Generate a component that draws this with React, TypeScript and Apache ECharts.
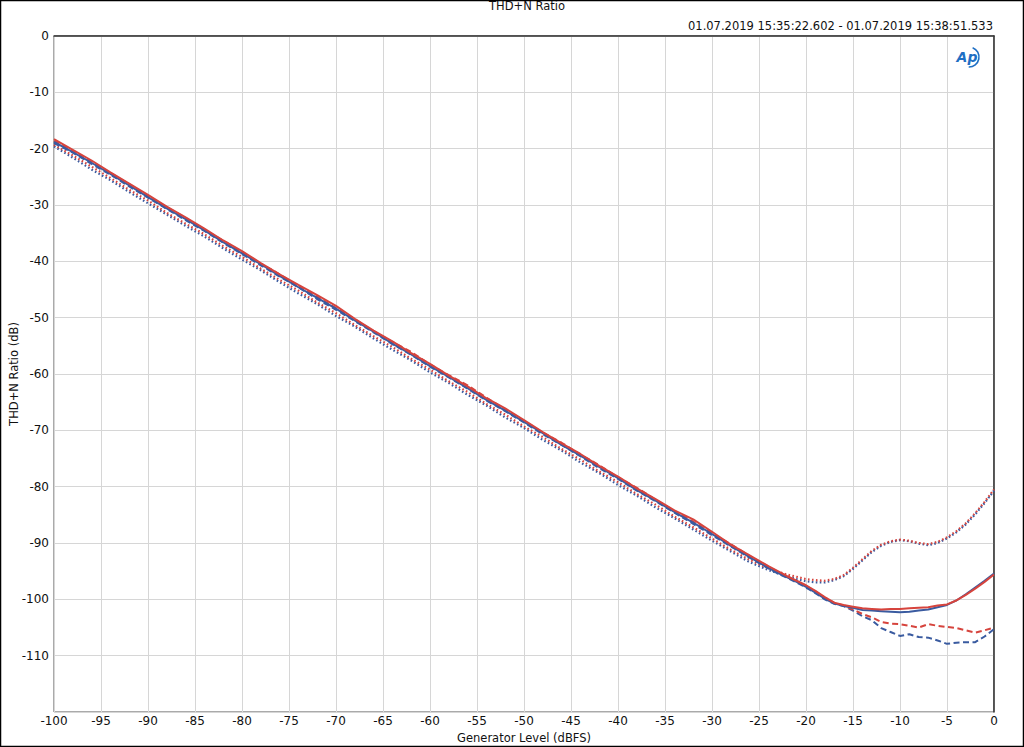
import React, { useEffect, useRef } from "react";
import * as echarts from "echarts";

const levels = [
  -100, -98, -96, -94, -92, -90, -88, -86, -84, -82, -80, -78, -76, -74, -72, -70, -68, -66, -64, -62,
  -60, -58, -56, -54, -52, -50, -48, -46, -44, -42, -40, -38, -36, -34, -32, -30, -28, -26, -24,
  -23, -22, -21, -20, -19, -18, -17, -16, -15, -14, -13, -12, -11, -10, -9, -8, -7, -6, -5, -4, -3, -2, -1, 0,
];

const redSolid = [
  -18.3, -20.2, -22.1, -24.2, -26.2, -28.2, -30.3, -32.2, -34.2, -36.3, -38.2, -40.3, -42.3, -44.2, -46.0,
  -47.9, -50.2, -52.3, -54.2, -56.3, -58.2, -60.3, -62.2, -64.3, -66.1, -68.2, -70.3, -72.3, -74.2, -76.3,
  -78.2, -80.3, -82.2, -84.2, -85.8, -88.0, -90.3, -92.2, -94.1,
  -95.0, -95.9, -96.7, -97.5, -98.5, -99.6, -100.6, -101.0, -101.3, -101.6, -101.7, -101.8, -101.7, -101.7,
  -101.6, -101.5, -101.4, -101.1, -100.9, -100.2, -99.2, -98.1, -96.9, -95.6,
];

const blueSolid = [
  -18.8, -20.6, -22.5, -24.5, -26.5, -28.6, -30.6, -32.5, -34.5, -36.6, -38.6, -40.5, -42.6, -44.6, -46.5,
  -48.4, -50.5, -52.5, -54.6, -56.5, -58.6, -60.5, -62.5, -64.6, -66.5, -68.5, -70.5, -72.6, -74.5, -76.5,
  -78.5, -80.6, -82.5, -84.5, -86.4, -88.4, -90.5, -92.5, -94.4,
  -95.3, -96.1, -96.9, -97.8, -98.8, -99.9, -100.7, -101.2, -101.5, -101.9, -102.0, -102.1, -102.2, -102.3,
  -102.2, -102.0, -101.8, -101.4, -101.0, -100.2, -99.1, -97.9, -96.7, -95.4,
];

const redDashed = [
  -18.6, -20.4, -22.4, -24.3, -26.3, -28.4, -30.4, -32.3, -34.4, -36.3, -38.4, -40.4, -42.3, -44.4, -46.3,
  -48.3, -50.3, -52.4, -54.3, -56.1, -58.3, -60.2, -62.0, -64.2, -66.3, -68.3, -70.4, -72.2, -74.3, -76.2,
  -78.3, -80.2, -82.3, -84.3, -86.2, -88.3, -90.2, -92.3, -94.2,
  -95.1, -96.0, -96.8, -97.6, -98.6, -99.7, -100.6, -101.1, -101.8, -102.6, -103.2, -104.0, -104.3, -104.4,
  -104.7, -105.0, -104.4, -104.7, -104.9, -105.1, -105.5, -105.9, -105.5, -105.0,
];

const blueDashed = [
  -19.0, -20.7, -22.7, -24.6, -26.7, -28.7, -30.7, -32.7, -34.6, -36.7, -38.7, -40.7, -42.7, -44.6, -46.7,
  -48.6, -50.6, -52.6, -54.7, -56.6, -58.7, -60.6, -62.6, -64.7, -66.6, -68.6, -70.7, -72.6, -74.6, -76.7,
  -78.6, -80.7, -82.6, -84.6, -86.6, -88.6, -90.6, -92.6, -94.5,
  -95.4, -96.2, -97.0, -97.9, -98.9, -100.0, -100.8, -101.2, -102.0, -103.0, -103.7, -105.1, -105.8, -106.5,
  -106.2, -106.7, -106.8, -107.3, -107.9, -107.7, -107.6, -107.6, -106.6, -105.3,
];

const redDotted = [
  -19.3, -21.2, -23.2, -25.2, -27.3, -29.2, -31.4, -33.3, -35.2, -37.3, -39.2, -41.3, -43.3, -45.2, -47.3,
  -49.2, -51.3, -53.3, -55.2, -57.3, -59.2, -61.3, -63.2, -65.3, -67.2, -69.3, -71.2, -73.3, -75.2, -77.3,
  -79.2, -81.3, -83.2, -85.3, -87.2, -89.2, -91.2, -93.0, -94.5,
  -95.1, -95.6, -96.0, -96.4, -96.6, -96.7, -96.4, -95.7, -94.4, -92.9, -91.4, -90.3, -89.7, -89.4,
  -89.6, -90.0, -90.2, -89.8, -89.0, -87.9, -86.5, -84.7, -82.7, -80.5,
];

const blueDotted = [
  -19.6, -21.6, -23.7, -25.6, -27.7, -29.7, -31.7, -33.7, -35.6, -37.7, -39.7, -41.6, -43.7, -45.7, -47.6,
  -49.7, -51.6, -53.7, -55.7, -57.6, -59.7, -61.6, -63.7, -65.6, -67.7, -69.6, -71.7, -73.6, -75.7, -77.6,
  -79.7, -81.6, -83.7, -85.6, -87.6, -89.6, -91.5, -93.4, -94.8,
  -95.4, -95.9, -96.4, -96.8, -97.0, -97.0, -96.6, -95.9, -94.6, -93.1, -91.6, -90.5, -89.8, -89.5,
  -89.7, -90.1, -90.4, -90.0, -89.2, -88.1, -86.7, -84.9, -82.9, -80.7,
];

const chartTitle = "THD+N Ratio";
const timeRange = "01.07.2019 15:35:22.602 - 01.07.2019 15:38:51.533";
const xName = "Generator Level (dBFS)";
const yName = "THD+N Ratio (dB)";

const RED = "#d6443d";
const BLUE = "#3a5ba0";
const FONT = "DejaVu Sans";

const zip = (ys: number[]) => levels.map((x, i) => [x, ys[i]]);

export default function App() {
  const ref = useRef<HTMLDivElement>(null);
  useEffect(() => {
    if (!ref.current) return;
    const chart = echarts.init(ref.current, null, { renderer: "svg" });
    const mk = (name: string, ys: number[], color: string, type: any, width: number) => ({
      name,
      type: "line",
      data: zip(ys),
      showSymbol: false,
      smooth: false,
      lineStyle: { color, width, type, cap: "butt" },
      itemStyle: { color },
      z: 3,
    });
    chart.setOption({
      animation: false,
      backgroundColor: "#ffffff",
      textStyle: { fontFamily: FONT },
      grid: {
        left: 54,
        right: 30,
        top: 36,
        bottom: 35,
        show: true,
        borderColor: "#555555",
        borderWidth: 1,
        containLabel: false,
        outerBoundsMode: "none",
      },
      xAxis: {
        type: "value",
        min: -100,
        max: 0,
        interval: 5,
        name: xName,
        nameLocation: "middle",
        nameGap: 18,
        nameTextStyle: { color: "#111", fontSize: 11.5, fontFamily: FONT },
        axisLine: { show: true, lineStyle: { color: "#333", width: 1.5 } },
        axisTick: { show: false },
        axisLabel: { color: "#111", fontSize: 12, margin: 3, fontFamily: FONT },
        splitLine: { show: true, lineStyle: { color: "#d6d6d6", width: 1 } },
      },
      yAxis: {
        type: "value",
        min: -120,
        max: 0,
        interval: 10,
        axisLine: { show: true, lineStyle: { color: "#333", width: 1.5 } },
        axisTick: { show: false },
        axisLabel: {
          color: "#111",
          fontSize: 12,
          margin: 5,
          fontFamily: FONT,
          formatter: (v: number) => (v === -120 ? "" : String(v)),
        },
        splitLine: { show: true, lineStyle: { color: "#d6d6d6", width: 1 } },
      },
      series: [
        mk("Blue dotted", blueDotted, BLUE, [1.6, 2.4], 2.2),
        mk("Red dotted", redDotted, RED, [1.6, 2.4], 2.2),
        mk("Blue dashed", blueDashed, BLUE, [6, 3.5], 2),
        mk("Red dashed", redDashed, RED, [6, 3.5], 2),
        mk("Blue solid", blueSolid, BLUE, "solid", 2),
        mk("Red solid", redSolid, RED, "solid", 2),
      ],
      graphic: [
        {
          type: "rect",
          shape: { x: 0.5, y: 0.5, width: 1023, height: 746 },
          style: { fill: "none", stroke: "#000", lineWidth: 1.5 },
          silent: true,
          z: 100,
        },
        {
          type: "text",
          x: 14,
          y: 374,
          rotation: Math.PI / 2,
          style: {
            text: yName,
            fill: "#111",
            fontSize: 11.5,
            fontFamily: FONT,
            textAlign: "center",
            textVerticalAlign: "middle",
          },
        },
        {
          type: "text",
          x: 527,
          y: 6,
          style: {
            text: chartTitle,
            fill: "#111",
            fontSize: 11.5,
            fontFamily: FONT,
            textAlign: "center",
            textVerticalAlign: "middle",
          },
        },
        {
          type: "text",
          x: 993,
          y: 26,
          style: {
            text: timeRange,
            fill: "#111",
            fontSize: 11.5,
            fontFamily: FONT,
            textAlign: "right",
            textVerticalAlign: "middle",
          },
        },
        {
          type: "text",
          x: 967,
          y: 57,
          style: {
            text: "Ap",
            fill: "#1f6fc4",
            fontSize: 14,
            fontWeight: "bold",
            fontStyle: "italic",
            fontFamily: FONT,
            textAlign: "center",
            textVerticalAlign: "middle",
          },
          z: 50,
        },
        {
          type: "arc",
          shape: { cx: 969, cy: 57, r: 10, startAngle: -1.2, endAngle: 1.6 },
          style: { stroke: "#1f6fc4", lineWidth: 1.6, fill: "none" },
          z: 50,
        },
      ],
    });
    return () => chart.dispose();
  }, []);
  return (
    <div
      ref={ref}
      style={{ position: "fixed", left: 0, top: 0, width: 1024, height: 747, background: "#fff" }}
    />
  );
}
